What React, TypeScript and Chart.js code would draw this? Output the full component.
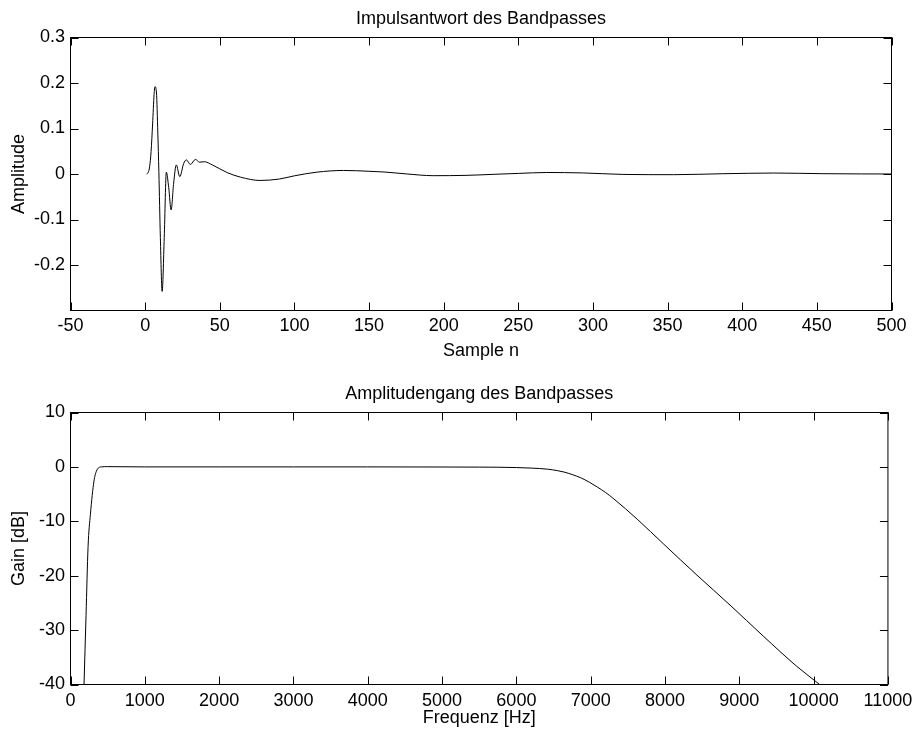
import React, { useEffect, useRef } from "react";
import { Chart, registerables } from "chart.js";

Chart.register(...registerables);

// ---- Data: impulse response ----
const impulseN = [1, 2, 3, 4, 5, 6, 6.6, 7.6, 8.5, 9.2, 10.2, 11.4, 12.8, 14.2, 15.8, 17.4, 19.1, 20.9, 23.2, 25.8, 27.6, 30.3, 33.7, 36.5, 39.7, 45, 55, 64, 77, 90, 100, 115, 133, 150, 160, 175, 193, 215, 235, 250, 269, 293, 320, 354, 387, 421, 454, 480, 500];
const impulseAmp = [0, 0.003, 0.016, 0.05, 0.11, 0.175, 0.192, 0.178, 0.09, 0.005, -0.14, -0.258, -0.14, 0.004, -0.03, -0.079, -0.02, 0.02, -0.006, 0.023, 0.031, 0.021, 0.032, 0.026, 0.027, 0.02, 0.003, -0.007, -0.0142, -0.011, -0.004, 0.004, 0.0078, 0.006, 0.0044, 0.0002, -0.0037, -0.003, -0.0005, 0.0013, 0.0033, 0.0024, -0.0009, -0.0015, 0.0006, 0.0021, 0.0007, 0.0002, 0];

// ---- Data: magnitude response ----
const freqHz = [182, 209, 236, 268, 316, 348, 415, 500, 1000, 2000, 3000, 4000, 5000, 5500, 5750, 6000, 6200, 6420, 6550, 6643, 6750, 6866, 6980, 7089, 7200, 7313, 7625, 7983, 8430, 8875, 9322, 9768, 10081];
const gainDb = [-40, -27.3, -14.8, -8.7, -2.6, -0.8, 0, 0.05, 0, 0, 0, 0, -0.02, -0.04, -0.06, -0.12, -0.22, -0.42, -0.68, -0.95, -1.4, -2.0, -2.8, -3.7, -4.7, -5.9, -9.6, -14.2, -19.9, -25.4, -31.1, -36.6, -40];

// ---- Ticks ----
const impulseXTicks = [-50, 0, 50, 100, 150, 200, 250, 300, 350, 400, 450, 500];
const impulseYTicks = [0.3, 0.2, 0.1, 0, -0.1, -0.2];
const impulseYLabels = ["0.3", "0.2", "0.1", "0", "-0.1", "-0.2"];
const freqXTicks = [0, 1000, 2000, 3000, 4000, 5000, 6000, 7000, 8000, 9000, 10000, 11000];
const gainYTicks = [10, 0, -10, -20, -30, -40];

const FONT = "'Liberation Sans', Arial, Helvetica, sans-serif";
const font = { family: FONT, size: 18, weight: "normal" as const };

const framePlugin = {
  id: "matlabFrame",
  afterDatasetsDraw(chart: any) {
    const { ctx, chartArea: a, scales } = chart;
    ctx.save();
    ctx.strokeStyle = "#000";
    ctx.lineWidth = 1;
    ctx.strokeRect(a.left, a.top, a.right - a.left, a.bottom - a.top);
    const L = 8;
    ctx.beginPath();
    scales.x.ticks.forEach((t: any) => {
      const px = Math.round(scales.x.getPixelForValue(t.value)) + 0.5;
      ctx.moveTo(px, a.bottom);
      ctx.lineTo(px, a.bottom - L);
      ctx.moveTo(px, a.top);
      ctx.lineTo(px, a.top + L);
    });
    scales.y.ticks.forEach((t: any) => {
      const py = Math.round(scales.y.getPixelForValue(t.value)) + 0.5;
      ctx.moveTo(a.left, py);
      ctx.lineTo(a.left + L, py);
      ctx.moveTo(a.right, py);
      ctx.lineTo(a.right - L, py);
    });
    ctx.stroke();
    ctx.restore();
  },
};

function makeConfig(p: {
  xs: number[]; ys: number[]; title: string; xTitle: string; yTitle: string;
  xMin: number; xMax: number; yMin: number; yMax: number;
  xTicks: number[]; yTicks: number[]; yLabels: string[];
  titlePadTop: number; titlePadBottom: number; xAxisHeight: number; xTickPad: number;
}) {
  const data = p.xs.map((x, i) => ({ x, y: p.ys[i] }));
  return {
    type: "line" as const,
    data: {
      datasets: [{
        data,
        borderColor: "#000",
        borderWidth: 1,
        pointRadius: 0,
        fill: false,
        cubicInterpolationMode: "monotone" as const,
      }],
    },
    options: {
      animation: false as const,
      responsive: false,
      devicePixelRatio: 1,
      events: [],
      layout: { padding: { left: 0, right: 26.5, top: 0, bottom: 0 } },
      plugins: {
        legend: { display: false },
        tooltip: { enabled: false },
        title: {
          display: true,
          fullSize: false,
          text: p.title,
          color: "#000",
          font,
          padding: { top: p.titlePadTop, bottom: p.titlePadBottom },
        },
      },
      scales: {
        x: {
          type: "linear" as const,
          min: p.xMin,
          max: p.xMax,
          grid: { display: false, drawTicks: false },
          border: { display: false },
          afterBuildTicks: (s: any) => { s.ticks = p.xTicks.map((v) => ({ value: v })); },
          afterFit: (s: any) => { s.height = p.xAxisHeight; },
          ticks: {
            color: "#000", font, padding: p.xTickPad, maxRotation: 0, autoSkip: false,
            callback: (v: any) => String(v),
          },
          title: { display: true, text: p.xTitle, color: "#000", font, padding: { top: 0, bottom: 4.2 } },
        },
        y: {
          type: "linear" as const,
          min: p.yMin,
          max: p.yMax,
          grid: { display: false, drawTicks: false },
          border: { display: false },
          afterBuildTicks: (s: any) => { s.ticks = p.yTicks.map((v) => ({ value: v })); },
          afterFit: (s: any) => { s.width = 70.5; },
          ticks: {
            color: "#000", font, padding: 5.5, autoSkip: false,
            callback: (v: any, i: number) => p.yLabels[i],
          },
          title: { display: true, text: p.yTitle, color: "#000", font, padding: { top: 8.2, bottom: 0 } },
        },
      },
    },
    plugins: [framePlugin],
  };
}

export default function App() {
  const topRef = useRef<HTMLCanvasElement>(null);
  const botRef = useRef<HTMLCanvasElement>(null);

  useEffect(() => {
    const c1 = new Chart(topRef.current!, makeConfig({
      xs: impulseN, ys: impulseAmp,
      title: "Impulsantwort des Bandpasses", xTitle: "Sample n", yTitle: "Amplitude",
      xMin: -50, xMax: 500, yMin: -0.3, yMax: 0.3,
      xTicks: impulseXTicks, yTicks: impulseYTicks, yLabels: impulseYLabels,
      titlePadTop: 8.2, titlePadBottom: 7.7, xAxisHeight: 55.5, xTickPad: 4.7,
    }) as any);
    const c2 = new Chart(botRef.current!, makeConfig({
      xs: freqHz, ys: gainDb,
      title: "Amplitudengang des Bandpasses", xTitle: "Frequenz [Hz]", yTitle: "Gain [dB]",
      xMin: 0, xMax: 11000, yMin: -40, yMax: 10,
      xTicks: freqXTicks, yTicks: gainYTicks, yLabels: gainYTicks.map(String),
      titlePadTop: 17.2, titlePadBottom: 7.7, xAxisHeight: 48.5, xTickPad: 5.7,
    }) as any);
    return () => { c1.destroy(); c2.destroy(); };
  }, []);

  return (
    <div style={{ position: "absolute", left: 0, top: 0, width: 918, height: 733, background: "#fff" }}>
      <canvas ref={topRef} width={918} height={366} style={{ position: "absolute", left: 0, top: 0, width: 918, height: 366 }} />
      <canvas ref={botRef} width={918} height={367} style={{ position: "absolute", left: 0, top: 366, width: 918, height: 367 }} />
    </div>
  );
}
